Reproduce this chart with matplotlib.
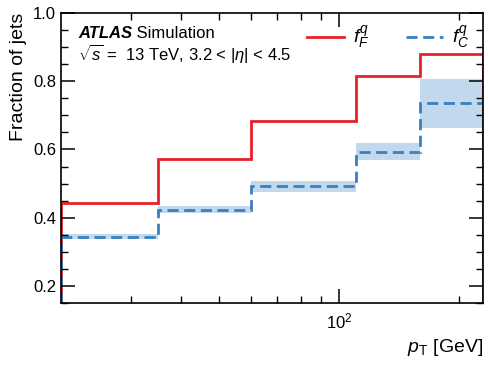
import numpy as np
import matplotlib
matplotlib.use("Agg")
import matplotlib.pyplot as plt
from matplotlib.ticker import MultipleLocator, NullFormatter, FixedLocator

plt.rcParams['font.family'] = ['Liberation Sans', 'DejaVu Sans']
plt.rcParams['mathtext.fontset'] = 'custom'
plt.rcParams['mathtext.rm'] = 'Liberation Sans'
plt.rcParams['mathtext.it'] = 'Liberation Sans:italic'
plt.rcParams['mathtext.bf'] = 'Liberation Sans:bold'

pt_edges = [20, 35, 60, 110, 160, 230]
f_forward = [0.444, 0.571, 0.683, 0.815, 0.880]
f_central = [0.344, 0.423, 0.492, 0.594, 0.735]
central_unc = [0.007, 0.010, 0.016, 0.026, 0.073]

red = '#e8212a'
blue = '#3a80c0'
band = '#c2d8ec'

fig = plt.figure(figsize=(4.88, 3.66), dpi=100)
ax = fig.add_axes([0.125, 0.172, 0.8648, 0.7925])

fc = np.array(f_central)
unc = np.array(central_unc)
ax.stairs(fc + unc, pt_edges, baseline=fc - unc, fill=True, color=band, lw=0)
ax.stairs(f_forward, pt_edges, color=red, lw=2.0, label=r'$f_{F}^{q}$')
ax.stairs(f_central, pt_edges, color=blue, lw=2.0, linestyle=(0, (4, 2)), label=r'$f_{C}^{q}$')

ax.set_xscale('log')
ax.set_xlim(20, 230)
ax.set_ylim(0.15, 1.0)
ax.xaxis.set_major_locator(FixedLocator([100]))
ax.xaxis.set_major_formatter(matplotlib.ticker.LogFormatterMathtext())
ax.xaxis.set_minor_locator(FixedLocator([30, 40, 50, 60, 70, 80, 90, 200]))
ax.xaxis.set_minor_formatter(NullFormatter())
ax.yaxis.set_major_locator(MultipleLocator(0.2))
ax.yaxis.set_minor_locator(MultipleLocator(0.05))
ax.yaxis.set_major_formatter(matplotlib.ticker.FormatStrFormatter('%.1f'))

ax.tick_params(which='both', direction='in', top=True, right=True, labelsize=12)
ax.tick_params(which='major', length=10, width=1.1)
ax.tick_params(which='minor', length=5, width=1.0)
ax.tick_params(axis='x', which='major', pad=6)
for s in ax.spines.values():
    s.set_linewidth(1.2)

ax.set_ylabel('Fraction of jets', fontsize=14, loc='top')
ax.set_xlabel(r'$p_{\mathrm{T}}$ [GeV]', fontsize=14, loc='right')

t1 = ax.text(0.04, 0.93, 'ATLAS', transform=ax.transAxes, fontsize=12,
             fontweight='bold', fontstyle='italic', va='center', ha='left')
ax.annotate(' Simulation', xycoords=t1, xy=(1, 0.5), fontsize=12, va='center', ha='left')
ax.text(0.04, 0.86, r'$\sqrt{s}$ =  13 TeV, 3.2 < $|\eta|$ < 4.5', transform=ax.transAxes,
        fontsize=12, va='center', ha='left')

ax.legend(loc='center right', ncol=2, frameon=False, fontsize=14,
          bbox_to_anchor=(0.968, 0.915), handlelength=1.9, columnspacing=1.9,
          handletextpad=0.45, borderaxespad=0.0, borderpad=0.0)

fig.savefig('out.png', dpi=100)
